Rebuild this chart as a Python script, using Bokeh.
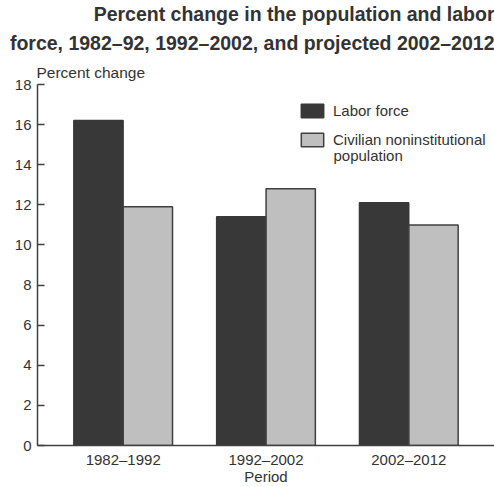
from bokeh.plotting import figure
from bokeh.models import ColumnDataSource, FactorRange, Range1d, Title, Legend, LegendItem, FixedTicker, Label
from bokeh.transform import dodge
from bokeh.embed import file_html
from bokeh.resources import INLINE

periods = ["1982–1992", "1992–2002", "2002–2012"]
labor_force = [16.2, 11.4, 12.1]
civilian_pop = [11.9, 12.8, 11.0]
y_ticks = [0, 2, 4, 6, 8, 10, 12, 14, 16, 18]

title_line1 = "Percent change in the population and labor"
title_line2 = "force, 1982–92, 1992–2002, and projected 2002–2012"
y_label = "Percent change"
x_label = "Period"
legend_labels = ["Labor force", "Civilian noninstitutional", "population"]

FONT = "Liberation Sans"
TXT = "#333333"
DARK = "#383838"
LIGHT = "#bfbfbf"
EDGE = "#404040"

src = ColumnDataSource(dict(period=periods, lf=labor_force, cp=civilian_pop))

p = figure(x_range=FactorRange(*periods, range_padding=0.1, range_padding_units="absolute"),
           y_range=Range1d(0, 18),
           width=494, height=487, output_backend="svg", toolbar_location=None,
           min_border_left=37, min_border_right=0, min_border_bottom=40, min_border_top=0)
p.outline_line_color = None
p.grid.grid_line_color = None
p.background_fill_color = "white"
p.border_fill_color = "white"

r1 = p.vbar(x=dodge("period", -0.173, range=p.x_range), top="lf", width=0.345, source=src,
            fill_color=DARK, line_color=DARK, line_width=1.5)
r2 = p.vbar(x=dodge("period", 0.173, range=p.x_range), top="cp", width=0.345, source=src,
            fill_color=LIGHT, line_color=EDGE, line_width=1.5)

# axes
p.yaxis.ticker = FixedTicker(ticks=y_ticks)
p.yaxis.minor_tick_line_color = None
p.yaxis.major_tick_in = 7
p.yaxis.major_tick_out = 0
p.yaxis.major_label_standoff = 6
p.yaxis.axis_line_color = EDGE
p.yaxis.axis_line_width = 1.5
p.yaxis.major_tick_line_color = EDGE
p.yaxis.major_tick_line_width = 1.5
p.yaxis.major_label_text_font = FONT
p.yaxis.major_label_text_font_size = "15px"
p.yaxis.major_label_text_color = TXT

p.xaxis.major_tick_line_color = None
p.xaxis.major_tick_in = 0
p.xaxis.major_tick_out = 0
p.xaxis.axis_line_color = EDGE
p.xaxis.axis_line_width = 1.5
p.xaxis.major_label_standoff = 5
p.xaxis.major_label_text_font = FONT
p.xaxis.major_label_text_font_size = "15px"
p.xaxis.major_label_text_color = TXT
p.xaxis.axis_label = x_label
p.xaxis.axis_label_standoff = -3
p.xaxis.axis_label_text_font = FONT
p.xaxis.axis_label_text_font_size = "15px"
p.xaxis.axis_label_text_font_style = "normal"
p.xaxis.axis_label_text_color = TXT
p.xaxis.axis_label_text_baseline = "middle"

# titles (first added is closest to the frame)
p.add_layout(Title(text=y_label, align="left", text_font=FONT, text_font_size="15.5px",
                   text_font_style="normal", text_color=TXT, offset=-1, standoff=7), "above")
p.add_layout(Title(text=title_line2, align="right", text_font=FONT, text_font_size="19.5px",
                   text_font_style="bold", text_color=TXT, standoff=10), "above")
p.add_layout(Title(text=title_line1, align="right", text_font=FONT, text_font_size="19.5px",
                   text_font_style="bold", text_color=TXT, standoff=0), "above")

legend = Legend(items=[LegendItem(label=legend_labels[0], renderers=[r1]),
                       LegendItem(label=legend_labels[1], renderers=[r2])],
                location=(261, 297), orientation="vertical",
                glyph_width=28, glyph_height=17, label_text_font=FONT, label_text_font_size="15px",
                label_text_color=TXT, border_line_color=None, background_fill_alpha=0,
                padding=0, margin=0, spacing=12, label_standoff=7)
p.add_layout(legend)
p.add_layout(Label(x=296, y=290, x_units="screen", y_units="screen", text=legend_labels[2],
                   text_font=FONT, text_font_size="15px", text_color=TXT,
                   text_baseline="middle", text_align="left"))

open("out.html", "w").write(file_html(p, INLINE))
